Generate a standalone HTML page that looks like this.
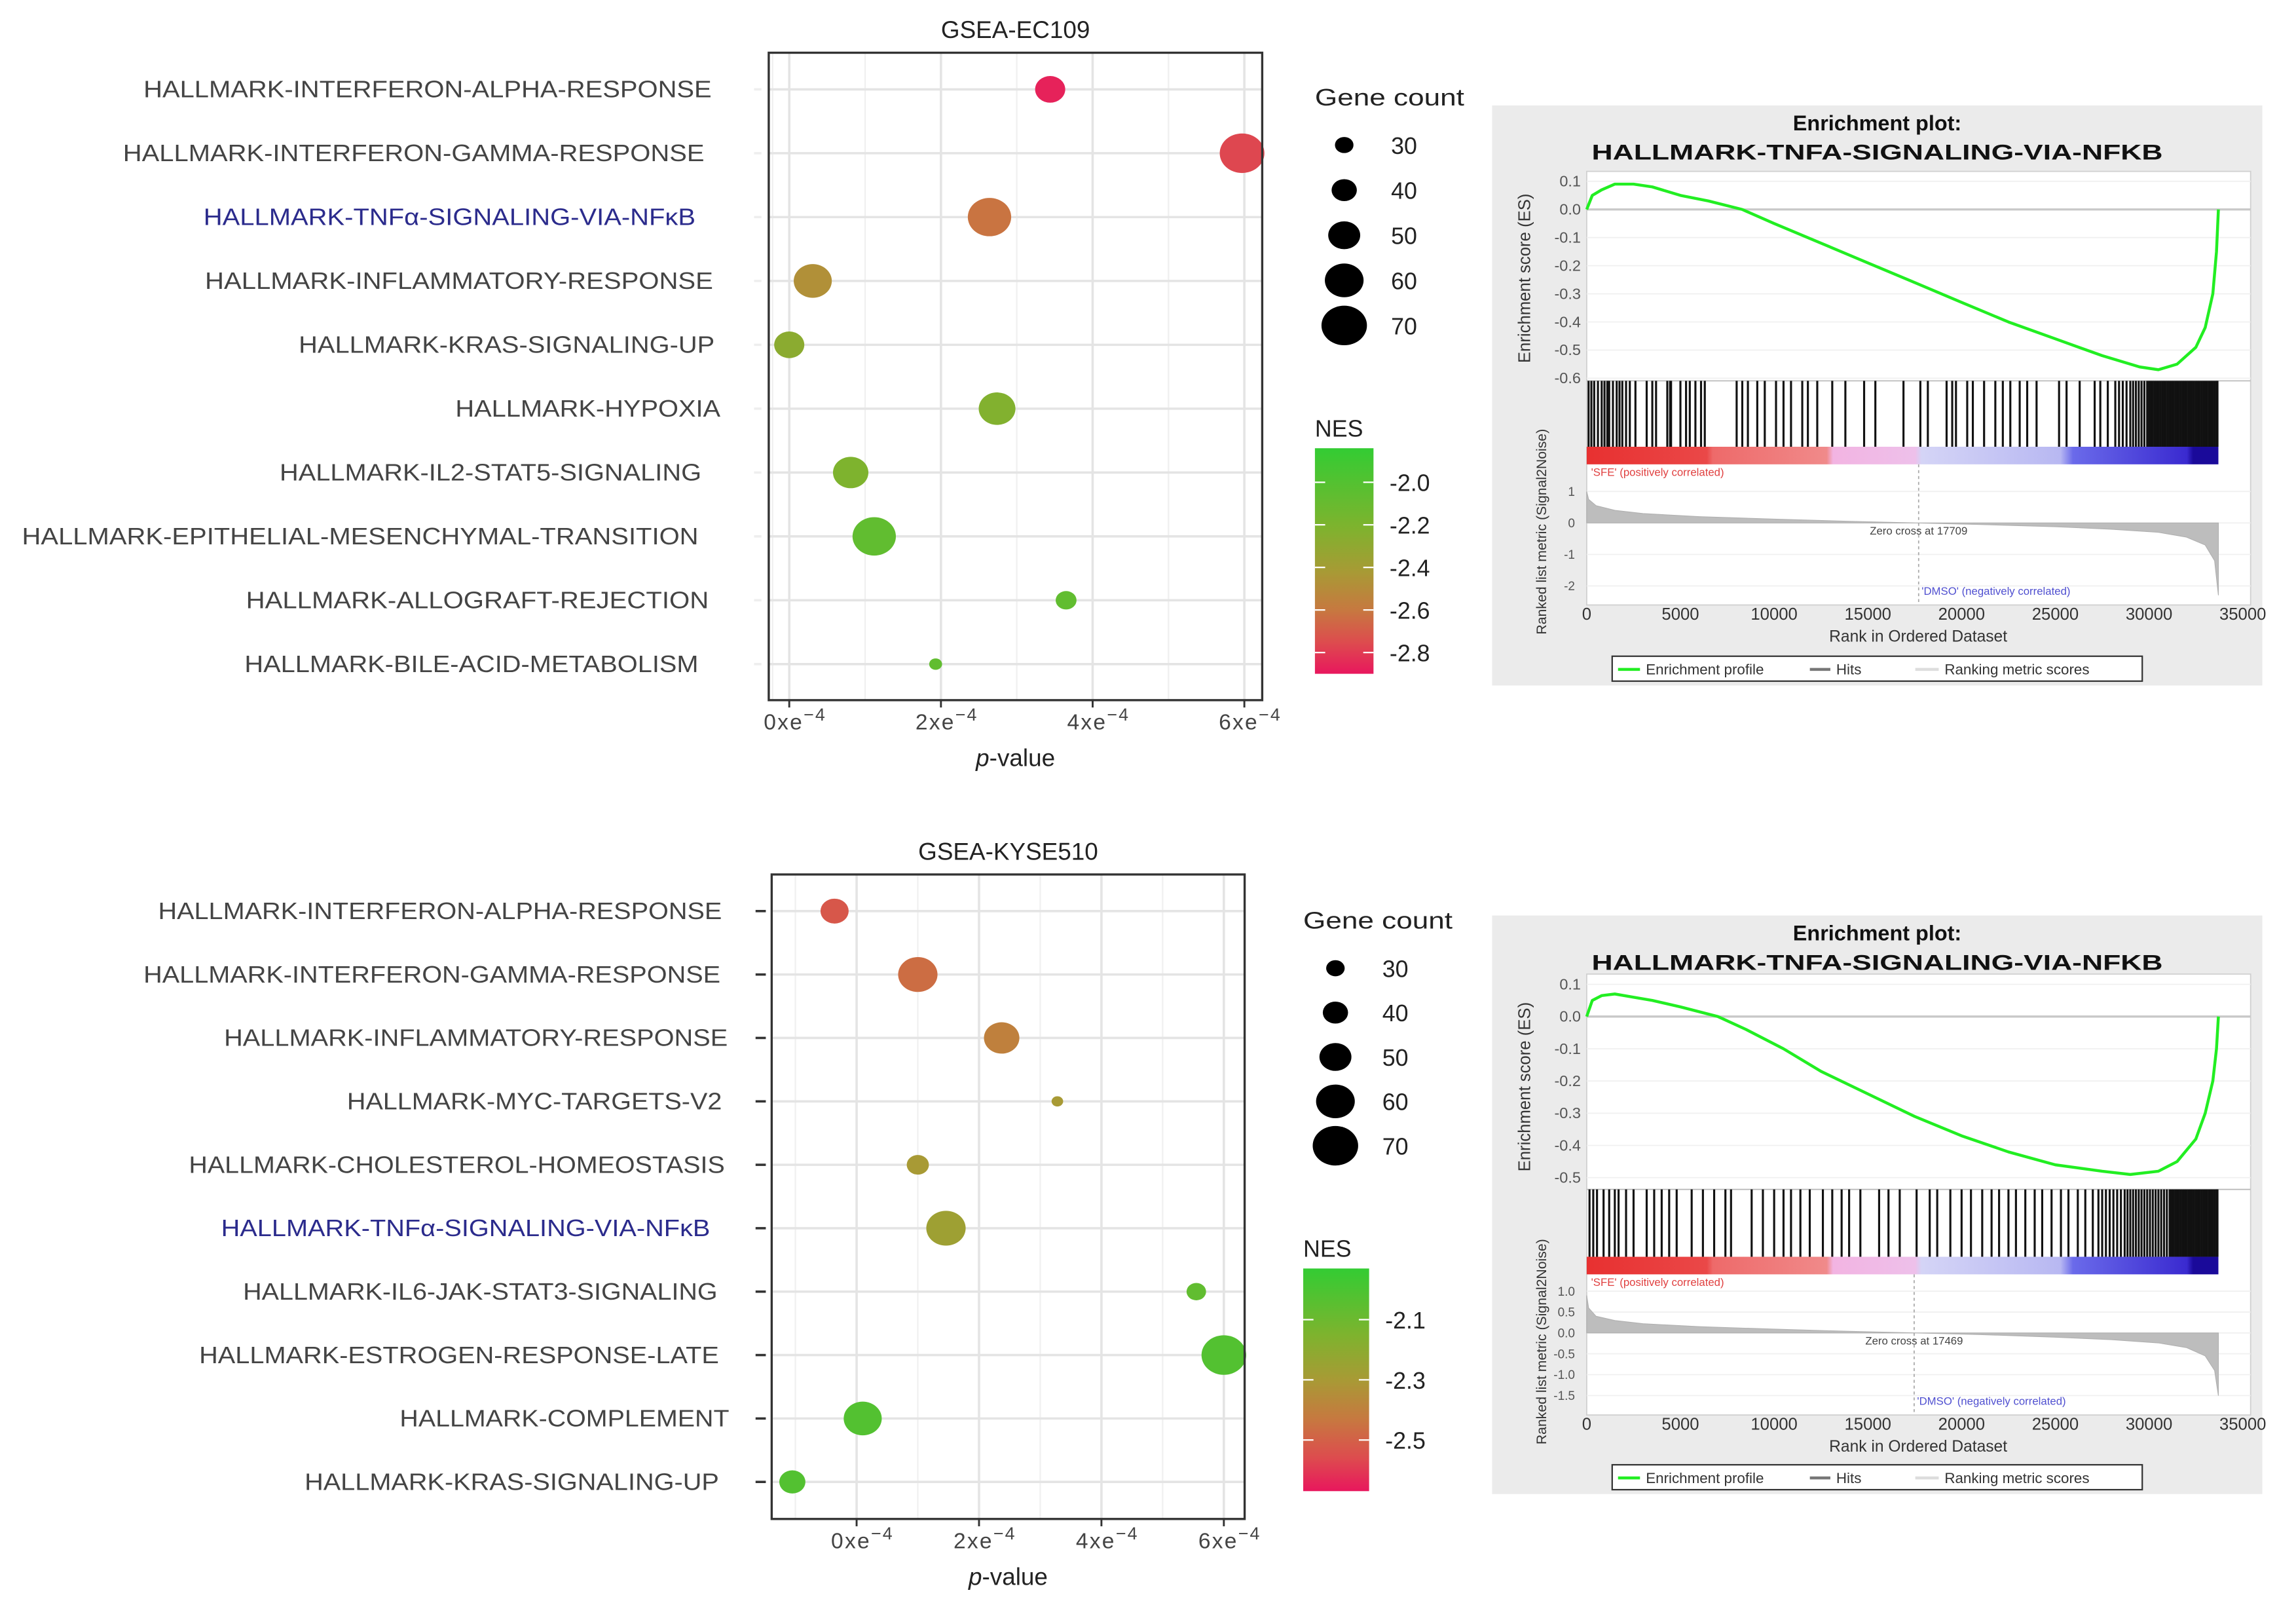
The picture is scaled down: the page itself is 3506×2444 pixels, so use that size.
<!DOCTYPE html>
<html><head><meta charset="utf-8"><style>
html,body{margin:0;padding:0;background:#fff;}
svg{display:block;font-family:"Liberation Sans",sans-serif;}
</style></head><body>
<svg id="fig" width="3506" height="2444" viewBox="0 0 1568 1093" preserveAspectRatio="none" xmlns="http://www.w3.org/2000/svg">
<defs>
<linearGradient id="nesTop" x1="0" y1="0" x2="0" y2="1">
<stop offset="0" stop-color="#33cc33"/><stop offset="0.35" stop-color="#7eb32e"/><stop offset="0.55" stop-color="#a89a35"/><stop offset="0.72" stop-color="#c77840"/><stop offset="0.86" stop-color="#dd4c4e"/><stop offset="1" stop-color="#e8175d"/>
</linearGradient>
<linearGradient id="nesBot" x1="0" y1="0" x2="0" y2="1">
<stop offset="0" stop-color="#33cc33"/><stop offset="0.3" stop-color="#7eb32e"/><stop offset="0.5" stop-color="#a89a35"/><stop offset="0.68" stop-color="#c77840"/><stop offset="0.85" stop-color="#dd4c4e"/><stop offset="1" stop-color="#e8175d"/>
</linearGradient>
<linearGradient id="rankBar" x1="0" y1="0" x2="1" y2="0">
<stop offset="0" stop-color="#e83030"/><stop offset="0.19" stop-color="#ea4848"/><stop offset="0.2" stop-color="#ee6a6a"/><stop offset="0.38" stop-color="#f08a8a"/><stop offset="0.39" stop-color="#f2b4e2"/><stop offset="0.52" stop-color="#eec0ea"/><stop offset="0.53" stop-color="#d4d4f6"/><stop offset="0.75" stop-color="#b8b8f2"/><stop offset="0.77" stop-color="#6a6aea"/><stop offset="0.95" stop-color="#3a2ad0"/><stop offset="0.96" stop-color="#1a0a9a"/><stop offset="1" stop-color="#1a0a9a"/>
</linearGradient>
</defs>
</svg>
<script>
// ---------- Bubble chart data ----------
const topTerms = ["HALLMARK-INTERFERON-ALPHA-RESPONSE","HALLMARK-INTERFERON-GAMMA-RESPONSE","HALLMARK-TNFα-SIGNALING-VIA-NFκB","HALLMARK-INFLAMMATORY-RESPONSE","HALLMARK-KRAS-SIGNALING-UP","HALLMARK-HYPOXIA","HALLMARK-IL2-STAT5-SIGNALING","HALLMARK-EPITHELIAL-MESENCHYMAL-TRANSITION","HALLMARK-ALLOGRAFT-REJECTION","HALLMARK-BILE-ACID-METABOLISM"];
const topLabelLeft = [98,84,139,140,204,311,191,15,168,167];
const topPval = [3.44,5.97,2.64,0.31,0.0,2.74,0.81,1.12,3.65,1.93];
const topNES = [-2.86,-2.72,-2.52,-2.36,-2.16,-2.12,-2.1,-2.0,-2.0,-2.0];
const topCount = [48,70,68,60,48,58,56,68,34,22];
const botTerms = ["HALLMARK-INTERFERON-ALPHA-RESPONSE","HALLMARK-INTERFERON-GAMMA-RESPONSE","HALLMARK-INFLAMMATORY-RESPONSE","HALLMARK-MYC-TARGETS-V2","HALLMARK-CHOLESTEROL-HOMEOSTASIS","HALLMARK-TNFα-SIGNALING-VIA-NFκB","HALLMARK-IL6-JAK-STAT3-SIGNALING","HALLMARK-ESTROGEN-RESPONSE-LATE","HALLMARK-COMPLEMENT","HALLMARK-KRAS-SIGNALING-UP"];
const botLabelLeft = [108,98,153,237,129,151,166,136,273,208];
const botPval = [-0.36,1.0,2.37,3.28,1.0,1.46,5.55,6.0,0.1,-1.05];
const botNES = [-2.65,-2.55,-2.45,-2.3,-2.3,-2.25,-2.0,-1.95,-1.95,-1.95];
const botCount = [45,62,56,20,36,62,32,70,60,42];
const sizeLegend = [30,40,50,60,70];
const topNesTicks = [-2.0,-2.2,-2.4,-2.6,-2.8];
const botNesTicks = [-2.1,-2.3,-2.5];
const pTicks = [0,2,4,6];

// ---------- GSEA data ----------
const topEsRank = [0,300,800,1500,2500,3500,5000,6500,8300,10000,12500,15000,17500,20000,22500,25000,27500,29500,30500,31500,32500,33000,33400,33600,33700];
const topEsVal = [0.0,0.05,0.07,0.09,0.09,0.08,0.05,0.03,0.0,-0.05,-0.12,-0.19,-0.26,-0.33,-0.40,-0.46,-0.52,-0.56,-0.57,-0.55,-0.49,-0.42,-0.3,-0.15,0.0];
const botEsRank = [0,300,800,1500,2500,3500,5000,7000,8500,10500,12500,15000,17500,20000,22500,25000,27500,29000,30500,31500,32500,33000,33400,33600,33700];
const botEsVal = [0.0,0.05,0.065,0.07,0.06,0.05,0.03,0.0,-0.04,-0.1,-0.17,-0.24,-0.31,-0.37,-0.42,-0.46,-0.48,-0.49,-0.48,-0.45,-0.38,-0.3,-0.2,-0.1,0.0];
const metricRank = [0,100,500,1500,3000,6000,10000,14000,17600,21000,25000,28000,30500,32000,33000,33500,33700];
const metricVal = [1.0,0.75,0.55,0.4,0.3,0.2,0.12,0.05,0,-0.05,-0.12,-0.2,-0.3,-0.45,-0.7,-1.2,-2.3];
const botMetricVal = [0.9,0.6,0.4,0.3,0.22,0.15,0.09,0.04,0,-0.04,-0.1,-0.16,-0.24,-0.35,-0.55,-0.9,-1.5];
const topHits = [100,250,400,600,800,950,1100,1200,1400,1600,1750,1900,2100,2300,2600,3200,3500,3700,4300,4450,4500,5000,5300,5500,5800,6100,6300,8000,8300,8600,9100,9500,10100,10500,10900,11500,11800,12300,13100,13800,14800,15400,16900,17800,18200,19200,19500,19700,20300,20600,21200,21800,22200,22600,23100,23500,24000,25200,25600,26300,27100,27400,27800,28200,28400,28600,28800,29000,29150,29300,29450,29600,29750,29900,30000,30100,30200,30300,30400,30500,30600,30700,30800,30900,31000,31100,31200,31300,31400,31500,31600,31700,31800,31900,32000,32100,32200,32300,32400,32500,32600,32700,32800,32900,33000,33100,33200,33300,33400,33500,33600,33650];
const botHits = [150,350,550,900,1200,1500,1700,2100,2500,3200,3600,4000,4400,4800,5600,6200,6800,7400,7700,8800,9400,10000,10500,10900,11400,11900,12600,13100,13600,14000,14600,15600,16100,16700,17600,18300,18700,19400,20000,20500,21100,21600,22000,22500,22900,23400,23900,24300,24800,25300,25700,26200,26600,27000,27300,27500,27700,27900,28100,28300,28500,28700,28850,29000,29150,29300,29450,29600,29750,29900,30050,30200,30350,30500,30650,30800,30950,31100,31200,31300,31400,31500,31600,31700,31800,31900,32000,32100,32200,32300,32400,32500,32600,32700,32800,32900,33000,33100,33200,33300,33400,33500,33600,33650];

const NS = "http://www.w3.org/2000/svg";
const svg = document.getElementById("fig");
function mk(tag, attrs, parent, txt) {
  const e = document.createElementNS(NS, tag);
  for (const k in attrs) e.setAttribute(k, attrs[k]);
  if (txt !== undefined) e.textContent = txt;
  (parent || svg).appendChild(e);
  return e;
}
function hex(c){return [parseInt(c.slice(1,3),16),parseInt(c.slice(3,5),16),parseInt(c.slice(5,7),16)];}
const nesStops = [[-1.84,"#33cc33"],[-2.1,"#7eb32e"],[-2.3,"#a89a35"],[-2.5,"#c77840"],[-2.7,"#dd4c4e"],[-2.9,"#e8175d"]];
function nesColor(v){
  for (let i=0;i<nesStops.length-1;i++){
    const [a,ca]=nesStops[i],[b,cb]=nesStops[i+1];
    if (v<=a && v>=b){const t=(a-v)/(a-b);const A=hex(ca),B=hex(cb);
      return "rgb("+A.map((x,j)=>Math.round(x+(B[j]-x)*t)).join(",")+")";}
  }
  return v>-1.84?"#33cc33":"#e8175d";
}
function bubbleR(c){return 5.5+(c-30)*0.2;}

function bubbleChart(cfg){
  const g = mk("g",{});
  
  
  const xS = v => cfg.x0 + v*cfg.xUnit;
  const yS = i => cfg.rowTop + i*cfg.rowStep;
  const t = mk("text",{x:(cfg.L+cfg.R)/2,y:cfg.T-10,"text-anchor":"middle","font-size":16.5,fill:"#222"},g,cfg.title);
  
  
  cfg.xTicksMinor.forEach(v=>{
    const l=mk("line",{x1:xS(v),x2:xS(v),y1:cfg.T,y2:cfg.B,stroke:"#f0f0f0","stroke-width":1},g);
    
    
  });
  pTicks.forEach(v=>{
    const l=mk("line",{x1:xS(v),x2:xS(v),y1:cfg.T,y2:cfg.B,stroke:"#e4e4e4","stroke-width":1.6},g);
    
    
    const tk=mk("line",{x1:xS(v),x2:xS(v),y1:cfg.B,y2:cfg.B+5,stroke:"#333","stroke-width":1.3},g);
    
    
    const lb=mk("text",{x:xS(v)+4,y:cfg.B+20,"text-anchor":"middle","font-size":15,fill:"#444","letter-spacing":1},g);
    
    
    lb.appendChild(document.createTextNode(v+"xe"));
    mk("tspan",{dy:-6,"font-size":12},lb,"−4");
  });
  cfg.terms.forEach((term,i)=>{
    const y=yS(i);
    const l=mk("line",{x1:cfg.L,x2:cfg.R,y1:y,y2:y,stroke:"#e4e4e4","stroke-width":1.6},g);
    
    
    const tk=mk("line",{x1:cfg.L-cfg.tickLen,x2:cfg.L-cfg.tickGap,y1:y,y2:y,stroke:cfg.tickColor,"stroke-width":1.6},g);
    
    
    const right=cfg.labelRight[i];
    const lb=mk("text",{x:right,y:y+5.5,"text-anchor":"end","font-size":16,fill:term.indexOf("TNF")>=0?"#2b2b8c":"#444",textLength:right-cfg.labelLeft[i],lengthAdjust:"spacingAndGlyphs"},g,term);
    
    
  });
  cfg.terms.forEach((term,i)=>{
    const r=bubbleR(cfg.count[i]);
    const b=mk("ellipse",{cx:xS(cfg.pval[i]),cy:yS(i),rx:r*1.13,ry:r,fill:nesColor(cfg.nes[i])},g);
    
    
  });
  const fr=mk("rect",{x:cfg.L,y:cfg.T,width:cfg.R-cfg.L,height:cfg.B-cfg.T,fill:"none",stroke:"#333","stroke-width":1.5},g);
  
  
  const xt=mk("text",{x:(cfg.L+cfg.R)/2,y:cfg.B+45,"text-anchor":"middle","font-size":16.5,fill:"#222"},g);
  
  
  mk("tspan",{"font-style":"italic"},xt,"p");
  xt.appendChild(document.createTextNode("-value"));
  const st=mk("text",{x:cfg.legX,y:cfg.legTitleY,"font-size":16,fill:"#222",textLength:102,lengthAdjust:"spacingAndGlyphs"},g,"Gene count");
  
  
  sizeLegend.forEach((c,i)=>{
    const y=cfg.legY0+i*cfg.legStep;
    const r=bubbleR(c);
    const e=mk("ellipse",{cx:cfg.legCx,cy:y,rx:r*1.15,ry:r,fill:"#000"},g);
    
    
    const lt=mk("text",{x:cfg.legCx+32,y:y+6,"font-size":16,fill:"#222"},g,String(c));
    
    
  });
  const ct=mk("text",{x:cfg.cbX,y:cfg.cbT-8,"font-size":16,fill:"#222"},g,"NES");
  
  
  const cb=mk("rect",{x:cfg.cbX,y:cfg.cbT,width:cfg.cbW,height:cfg.cbB-cfg.cbT,fill:cfg.grad},g);
  
  
  const cY = v => cfg.cbT + (cfg.cbTopVal - v)/(cfg.cbTopVal-cfg.cbBotVal)*(cfg.cbB-cfg.cbT);
  cfg.nesTicks.forEach(v=>{
    const y=cY(v);
    const a=mk("line",{x1:cfg.cbX,x2:cfg.cbX+7,y1:y,y2:y,stroke:"#fff","stroke-width":1},g);
    
    
    const b=mk("line",{x1:cfg.cbX+cfg.cbW-7,x2:cfg.cbX+cfg.cbW,y1:y,y2:y,stroke:"#fff","stroke-width":1},g);
    
    
    const lt=mk("text",{x:cfg.cbX+cfg.cbW+11,y:y+6,"font-size":16,fill:"#222"},g,v.toFixed(1));
    
    
  });
}

bubbleChart({name:"bubble-chart-ec109",title:"GSEA-EC109",L:525,R:862,T:36,B:478,x0:539,xUnit:51.8,
  xTicksMinor:[-0.22,1,3,5],rowTop:61,rowStep:43.6,terms:topTerms,labelLeft:topLabelLeft,
  labelRight:[486,481,475,487,488,492,479,477,484,477],pval:topPval,nes:topNES,count:topCount,
  tickLen:10,tickGap:5,tickColor:"#eee",
  legX:898,legTitleY:72,legCx:918,legY0:99,legStep:30.8,
  cbX:898,cbT:306,cbB:460,cbW:40,grad:"url(#nesTop)",cbTopVal:-1.84,cbBotVal:-2.9,nesTicks:topNesTicks});
bubbleChart({name:"bubble-chart-kyse510",title:"GSEA-KYSE510",L:527,R:850,T:597,B:1037,x0:585,xUnit:41.8,
  xTicksMinor:[-1,1,3,5],rowTop:622,rowStep:43.3,terms:botTerms,labelLeft:botLabelLeft,
  labelRight:[493,492,497,493,495,485,490,491,498,491],pval:botPval,nes:botNES,count:botCount,
  tickLen:11,tickGap:4,tickColor:"#333",
  legX:890,legTitleY:634,legCx:912,legY0:661,legStep:30.3,
  cbX:890,cbT:866,cbB:1018,cbW:45,grad:"url(#nesBot)",cbTopVal:-1.93,cbBotVal:-2.67,nesTicks:botNesTicks});

// ---------- GSEA enrichment plots ----------
function gsea(cfg){
  const g=mk("g",{});
  
  
  const bg=mk("rect",{x:1019,y:cfg.bgT,width:526,height:cfg.bgB-cfg.bgT,fill:"#ebebeb"},g);
  
  
  const X0=1083.6, xU=(1515-1083.6)/33700;
  const xS=r=>X0+r*xU;
  const PR=1537;
  const wb=mk("rect",{x:X0,y:cfg.esT,width:PR-X0,height:cfg.mB-cfg.esT,fill:"#fff",stroke:"#d0d0d0","stroke-width":0.8},g);
  
  
  const t1=mk("text",{x:1282,y:cfg.bgT+17,"text-anchor":"middle","font-size":14.5,"font-weight":"bold",fill:"#111"},g,"Enrichment plot:");
  
  
  const t2=mk("text",{x:1282,y:cfg.bgT+37,"text-anchor":"middle","font-size":14.5,"font-weight":"bold",fill:"#111",textLength:390,lengthAdjust:"spacingAndGlyphs"},g,"HALLMARK-TNFA-SIGNALING-VIA-NFKB");
  
  
  const esY=v=>cfg.es0-v*cfg.esU;
  cfg.esTicks.forEach(v=>{
    const y=esY(v);
    const gl=mk("line",{x1:X0,x2:PR,y1:y,y2:y,stroke:v===0?"#c8c8c8":"#f0f0f0","stroke-width":v===0?1.5:0.8},g);
    
    
    const lt=mk("text",{x:X0-4,y:y+3.5,"text-anchor":"end","font-size":10.5,fill:"#555"},g,v.toFixed(1));
    
    
  });
  const hb=mk("line",{x1:X0,x2:PR,y1:cfg.hT,y2:cfg.hT,stroke:"#bbb","stroke-width":0.8},g);
  
  
  cfg.hits.forEach(r=>{
    const h=mk("line",{x1:xS(r),x2:xS(r),y1:cfg.hT,y2:cfg.hB,stroke:"#111","stroke-width":1.4},g);
    
    
  });
  const rb=mk("rect",{x:X0,y:cfg.hB,width:xS(33700)-X0,height:12,fill:"url(#rankBar)"},g);
  
  
  const mY=v=>cfg.m0-v*cfg.mU;
  cfg.mTicks.forEach(v=>{
    const y=mY(v);
    const gl=mk("line",{x1:X0,x2:PR,y1:y,y2:y,stroke:"#f0f0f0","stroke-width":0.8},g);
    
    
    const lt=mk("text",{x:X0-8,y:y+3,"text-anchor":"end","font-size":8.5,fill:"#555"},g,cfg.mFmt(v));
    
    
  });
  let d="M"+xS(metricRank[0])+","+mY(0);
  metricRank.forEach((r,i)=>{d+=" L"+xS(r).toFixed(1)+","+mY(cfg.mVal[i]).toFixed(1);});
  d+=" L"+xS(metricRank[metricRank.length-1])+","+mY(0)+" Z";
  const ma=mk("path",{d:d,fill:"#bdbdbd",stroke:"#b0b0b0","stroke-width":0.5},g);
  
  
  const zc=mk("line",{x1:xS(cfg.zero),x2:xS(cfg.zero),y1:cfg.hB+12,y2:cfg.mB,stroke:"#aaa","stroke-width":0.8,"stroke-dasharray":"2,2"},g);
  
  
  const zt=mk("text",{x:xS(cfg.zero),y:mY(0)+8,"text-anchor":"middle","font-size":7.5,fill:"#444"},g,"Zero cross at "+cfg.zero);
  
  
  const sfe=mk("text",{x:X0+3,y:cfg.hB+20,"font-size":7.5,fill:"#e04040"},g,"'SFE' (positively correlated)");
  
  
  const dm=mk("text",{x:xS(cfg.zero)+2,y:cfg.mB-7,"font-size":7.5,fill:"#5050d0"},g,"'DMSO' (negatively correlated)");
  
  
  let p="";
  cfg.esR.forEach((r,i)=>{p+=(i?" L":"M")+xS(r).toFixed(1)+","+esY(cfg.esV[i]).toFixed(1);});
  const c=mk("path",{d:p,fill:"none",stroke:"#22ee22","stroke-width":2,"stroke-linejoin":"round"},g);
  
  
  [0,5000,10000,15000,20000,25000,30000,35000].forEach(v=>{
    const lt=mk("text",{x:xS(v),y:cfg.mB+10,"text-anchor":"middle","font-size":11.5,fill:"#333"},g,String(v));
    
    
  });
  const xt=mk("text",{x:1310,y:cfg.mB+25,"text-anchor":"middle","font-size":11,fill:"#333"},g,"Rank in Ordered Dataset");
  
  
  const y1=mk("text",{x:0,y:0,"text-anchor":"middle","font-size":11.5,fill:"#333",transform:"translate(1045,"+cfg.esMid+") rotate(-90)"},g,"Enrichment score (ES)");
  
  
  const y2=mk("text",{x:0,y:0,"text-anchor":"middle","font-size":9.5,fill:"#333",transform:"translate(1056,"+cfg.mMid+") rotate(-90)"},g,"Ranked list metric (Signal2Noise)");
  
  
  const ly=cfg.legY;
  const lb=mk("rect",{x:1101,y:ly,width:362,height:17,fill:"#fff",stroke:"#333","stroke-width":1},g);
  
  
  const l1=mk("line",{x1:1105,x2:1120,y1:ly+9,y2:ly+9,stroke:"#22ee22","stroke-width":2},g);
  
  
  const e1=mk("text",{x:1124,y:ly+12.5,"font-size":10,fill:"#333"},g,"Enrichment profile");
  
  
  const l2=mk("line",{x1:1236,x2:1250,y1:ly+9,y2:ly+9,stroke:"#777","stroke-width":2},g);
  
  
  const e2=mk("text",{x:1254,y:ly+12.5,"font-size":10,fill:"#333"},g,"Hits");
  
  
  const l3=mk("line",{x1:1308,x2:1324,y1:ly+9,y2:ly+9,stroke:"#ddd","stroke-width":2},g);
  
  
  const e3=mk("text",{x:1328,y:ly+12.5,"font-size":10,fill:"#333"},g,"Ranking metric scores");
  
  
}

gsea({name:"gsea-plot-ec109",bgT:72,bgB:468,esT:117,es0:143,esU:192,esTicks:[0.1,0,-0.1,-0.2,-0.3,-0.4,-0.5,-0.6],
  hT:260,hB:305,m0:357,mU:21.5,mB:413,mTicks:[1,0,-1,-2],mFmt:v=>String(v),mVal:metricVal,zero:17709,
  esR:topEsRank,esV:topEsVal,hits:topHits,esMid:190,mMid:363,legY:448});
gsea({name:"gsea-plot-kyse510",bgT:625,bgB:1020,esT:665,es0:694,esU:220,esTicks:[0.1,0,-0.1,-0.2,-0.3,-0.4,-0.5],
  hT:812,hB:858,m0:910,mU:28.5,mB:966,mTicks:[1,0.5,0,-0.5,-1,-1.5],mFmt:v=>v.toFixed(1),mVal:botMetricVal,zero:17469,
  esR:botEsRank,esV:botEsVal,hits:botHits,esMid:742,mMid:916,legY:1000});
</script>
</body></html>
